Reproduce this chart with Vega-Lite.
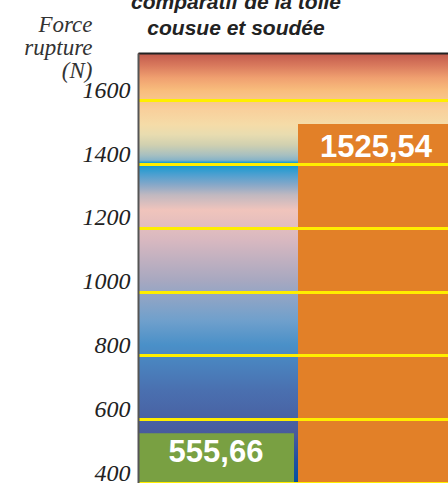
{
  "$schema": "https://vega.github.io/schema/vega-lite/v6.json",
  "width": 310,
  "height": 430,
  "autosize": {"type": "none"},
  "padding": {"left": 138, "top": 53, "right": 0, "bottom": 0},
  "background": "white",
  "config": {
    "view": {
      "stroke": null,
      "fill": {
        "gradient": "linear", "x1": 0, "y1": 0, "x2": 0, "y2": 1,
        "stops": [
          {"offset": 0, "color": "#c0584c"},
          {"offset": 0.028, "color": "#d8785c"},
          {"offset": 0.058, "color": "#f0a070"},
          {"offset": 0.086, "color": "#f8bc7c"},
          {"offset": 0.133, "color": "#f8d09c"},
          {"offset": 0.167, "color": "#f5dca8"},
          {"offset": 0.19, "color": "#e8dcb0"},
          {"offset": 0.214, "color": "#d0d0b0"},
          {"offset": 0.237, "color": "#a8c0c0"},
          {"offset": 0.249, "color": "#88b4c8"},
          {"offset": 0.256, "color": "#0898d0"},
          {"offset": 0.284, "color": "#50a0d0"},
          {"offset": 0.307, "color": "#88a8c8"},
          {"offset": 0.33, "color": "#c0b8c0"},
          {"offset": 0.365, "color": "#f0c4bc"},
          {"offset": 0.435, "color": "#d8b8c0"},
          {"offset": 0.528, "color": "#a8a8c0"},
          {"offset": 0.621, "color": "#70a0cc"},
          {"offset": 0.679, "color": "#4a90c8"},
          {"offset": 0.784, "color": "#4a70b0"},
          {"offset": 0.888, "color": "#485a9c"},
          {"offset": 0.947, "color": "#2050a0"},
          {"offset": 1, "color": "#0050a0"}
        ]
      }
    }
  },
  "title": {
    "text": ["comparatif de la toile", "cousue et soudée"],
    "font": "Liberation Sans",
    "fontSize": 21,
    "fontStyle": "italic",
    "fontWeight": "bold",
    "color": "#222222",
    "lineHeight": 26,
    "anchor": "middle",
    "frame": "group",
    "dx": -57,
    "offset": -26
  },
  "data": {
    "values": [
      {"type": "cousue", "force": 555.66, "label": "555,66"},
      {"type": "soudée", "force": 1525.54, "label": "1525,54"}
    ]
  },
  "encoding": {
    "x": {
      "field": "type",
      "type": "nominal",
      "sort": ["cousue", "soudée"],
      "scale": {"range": [0, 316], "paddingInner": 0.025, "paddingOuter": 0},
      "axis": {
        "orient": "top",
        "title": null,
        "labels": false,
        "ticks": false,
        "grid": false,
        "domain": true,
        "domainColor": "#222222",
        "domainWidth": 2,
        "zindex": 1
      }
    },
    "y": {
      "field": "force",
      "type": "quantitative",
      "scale": {"domain": [400, 1748], "zero": false, "nice": false},
      "axis": {
        "orient": "left",
        "values": [400, 600, 800, 1000, 1200, 1400, 1600],
        "format": "d",
        "title": ["Force", "rupture", "(N)"],
        "titleAngle": 0,
        "titleX": -46,
        "titleY": -22,
        "titleAlign": "right",
        "titleBaseline": "alphabetic",
        "titleFont": "Liberation Serif",
        "titleFontStyle": "italic",
        "titleFontWeight": "normal",
        "titleFontSize": 23,
        "titleLineHeight": 23,
        "titleColor": "#333333",
        "labelFont": "Liberation Serif",
        "labelFontStyle": "italic",
        "labelFontSize": 24,
        "labelColor": "#222222",
        "labelPadding": 8,
        "labelOffset": -10,
        "labelBaseline": "middle",
        "labelFlush": false,
        "labelOverlap": false,
        "ticks": false,
        "tickSize": 0,
        "domainColor": "#555555",
        "domainWidth": 2,
        "grid": true,
        "gridColor": "#ffee00",
        "gridWidth": 3,
        "gridOpacity": 1,
        "zindex": 1
      }
    }
  },
  "layer": [
    {
      "mark": {"type": "bar", "clip": true},
      "encoding": {
        "color": {
          "field": "type",
          "type": "nominal",
          "scale": {"domain": ["cousue", "soudée"], "range": ["#79a042", "#e28028"]},
          "legend": null
        }
      }
    },
    {
      "transform": [{"filter": "datum.type === 'cousue'"}],
      "mark": {"type": "text", "baseline": "top", "dy": 5, "font": "Liberation Sans", "fontWeight": "bold", "fontSize": 31, "color": "white"},
      "encoding": {"text": {"field": "label"}}
    },
    {
      "transform": [{"filter": "datum.type === 'soudée'"}],
      "mark": {"type": "text", "baseline": "top", "dy": 9, "font": "Liberation Sans", "fontWeight": "bold", "fontSize": 31, "color": "white"},
      "encoding": {"text": {"field": "label"}}
    }
  ]
}
